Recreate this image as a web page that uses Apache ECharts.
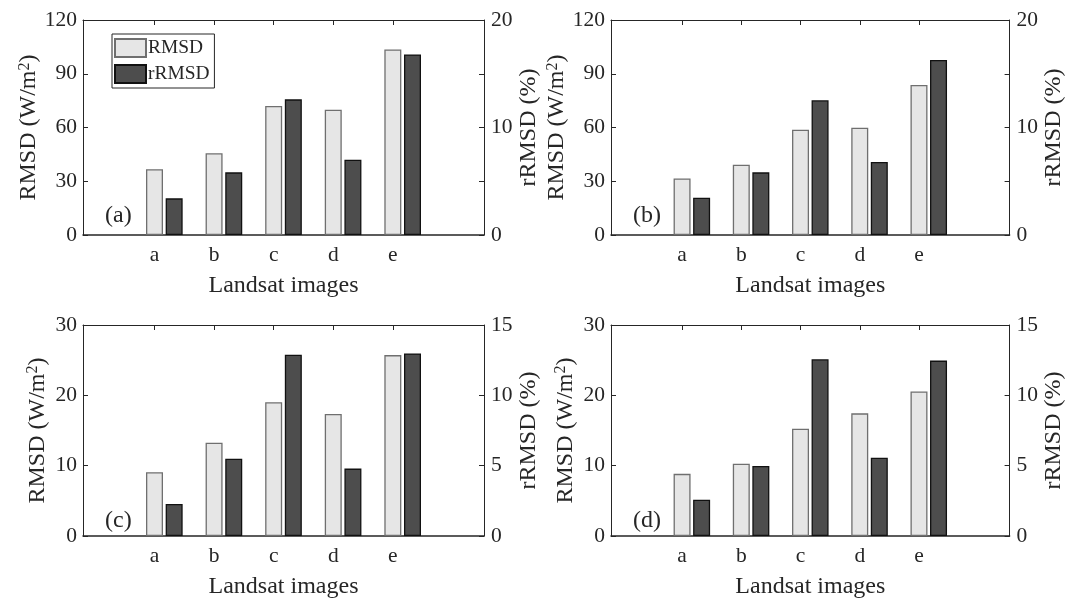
<!DOCTYPE html>
<html>
<head>
<meta charset="utf-8">
<title>RMSD / rRMSD</title>
<script src="https://cdn.jsdelivr.net/npm/echarts@6/dist/echarts.min.js"></script>
<style>
  html, body { margin: 0; padding: 0; background: #fff; }
  #main { width: 1067px; height: 600px; }
</style>
</head>
<body>
<div id="main"></div>
<script>
// ************** data **************
var categories = ['a', 'b', 'c', 'd', 'e'];
var panelTags = ['(a)', '(b)', '(c)', '(d)'];

var rmsdA = [36.7, 45.6, 72.0, 69.9, 103.6];
var rrmsdA = [3.41, 5.83, 12.62, 7.0, 16.8];
var rmsdB = [31.6, 39.2, 58.8, 59.9, 83.7];
var rrmsdB = [3.47, 5.83, 12.53, 6.79, 16.28];
var rmsdC = [9.07, 13.26, 19.02, 17.35, 25.72];
var rrmsdC = [2.28, 5.49, 12.88, 4.79, 12.98];
var rmsdD = [8.84, 10.28, 15.26, 17.44, 20.56];
var rrmsdD = [2.58, 4.98, 12.56, 5.56, 12.47];

// axis ranges for each panel
var leftMax = [120, 120, 30, 30];
var leftStep = [30, 30, 10, 10];
var rightMax = [20, 20, 15, 15];
var rightLabelStep = [10, 10, 5, 5];

// ****************common settings*************
var chart = echarts.init(document.getElementById('main'));
var FONT = '"Liberation Serif", "Times New Roman", serif';
var INK = '#262626';
var tickPos = categories.map(function (c, i) { return i + 1; });
var shift = 0.33; // rRMSD bar sits right of the category tick
var allRmsd = [rmsdA, rmsdB, rmsdC, rmsdD];
var allRrmsd = [rrmsdA, rrmsdB, rrmsdC, rrmsdD];
var gridPos = [[83, 20], [611, 20], [83, 325], [611, 325]];

var grids = [], xAxes = [], yAxes = [], series = [], graphics = [];

for (var k = 0; k < 4; k++) {
    grids.push({ left: gridPos[k][0], top: gridPos[k][1], width: 401, height: 215 });

    // bottom axis with letters
    xAxes.push({
        type: 'value', gridIndex: k, position: 'bottom', min: -0.2, max: 6.53,
        name: 'Landsat images', nameLocation: 'middle', nameGap: 39,
        nameTextStyle: { fontFamily: FONT, fontSize: 24, color: INK },
        axisLine: { show: true, onZero: false, lineStyle: { color: INK, width: 1.5 } },
        axisTick: { show: true, inside: true, length: 5, customValues: tickPos, lineStyle: { color: INK } },
        axisLabel: {
            customValues: tickPos, margin: 9, fontFamily: FONT, fontSize: 21.5, color: INK,
            formatter: function (v) { return categories[Math.round(v) - 1] || ''; }
        },
        splitLine: { show: false }
    });
    // top frame
    xAxes.push({
        type: 'value', gridIndex: k, position: 'top', min: -0.2, max: 6.53,
        axisLine: { show: true, onZero: false, lineStyle: { color: INK, width: 1 } },
        axisTick: { show: true, inside: true, length: 5, customValues: tickPos, lineStyle: { color: INK } },
        axisLabel: { show: false },
        splitLine: { show: false }
    });

    yAxes.push({
        type: 'value', gridIndex: k, position: 'left', min: 0, max: leftMax[k], interval: leftStep[k],
        name: '{n|RMSD (W/m}{s|2}{n|)}', nameLocation: 'middle', nameGap: 33, nameRotate: 90,
        nameTextStyle: {
            rich: {
                n: { fontFamily: FONT, fontSize: 24, color: INK },
                s: { fontFamily: FONT, fontSize: 16, color: INK, verticalAlign: 'bottom', padding: [0, 0, 9, 0] }
            }
        },
        axisLine: { show: true, onZero: false, lineStyle: { color: INK, width: 1 } },
        axisTick: { show: true, inside: true, length: 5, lineStyle: { color: INK } },
        axisLabel: { margin: 6, fontFamily: FONT, fontSize: 21.5, color: INK },
        splitLine: { show: false }
    });
    (function (step) {
        yAxes.push({
            type: 'value', gridIndex: k, position: 'right', min: 0, max: rightMax[k], interval: 5,
            name: 'rRMSD (%)', nameLocation: 'middle', nameGap: 32, nameRotate: 90,
            nameTextStyle: { fontFamily: FONT, fontSize: 24, color: INK },
            axisLine: { show: true, onZero: false, lineStyle: { color: INK, width: 1 } },
            axisTick: { show: true, inside: true, length: 5, lineStyle: { color: INK } },
            axisLabel: {
                margin: 7, fontFamily: FONT, fontSize: 21.5, color: INK,
                formatter: function (v) { return v % step === 0 ? String(v) : ''; }
            },
            splitLine: { show: false }
        });
    })(rightLabelStep[k]);

    series.push({
        name: 'RMSD', type: 'bar', xAxisIndex: 2 * k, yAxisIndex: 2 * k,
        barWidth: 17, barGap: '-100%',
        itemStyle: { color: '#e6e6e6', borderColor: '#6f6f6f', borderWidth: 1.3 },
        data: allRmsd[k].map(function (v, i) { return [tickPos[i], v]; })
    });
    series.push({
        name: 'rRMSD', type: 'bar', xAxisIndex: 2 * k, yAxisIndex: 2 * k + 1,
        barWidth: 17, barGap: '-100%',
        itemStyle: { color: '#4d4d4d', borderColor: '#111', borderWidth: 1.3 },
        data: allRrmsd[k].map(function (v, i) { return [tickPos[i] + shift, v]; })
    });

    graphics.push({
        type: 'text', left: gridPos[k][0] + 22, top: gridPos[k][1] + 184, z: 100,
        style: { text: panelTags[k], font: '24px ' + FONT, fill: INK }
    });
}

var option = {
    backgroundColor: '#fff',
    animation: false,
    grid: grids,
    xAxis: xAxes,
    yAxis: yAxes,
    legend: {
        data: ['RMSD', 'rRMSD'], orient: 'vertical', left: 112, top: 34,
        icon: 'rect',
        itemWidth: 31, itemHeight: 18, itemGap: 6, padding: [4, 5, 4, 2],
        borderColor: INK, borderWidth: 1, backgroundColor: '#fff',
        textStyle: { fontFamily: FONT, fontSize: 19.4, color: INK, padding: [0, 0, 0, -3] },
        selectedMode: false
    },
    graphic: graphics,
    series: series
};
chart.setOption(option);
</script>
</body>
</html>
